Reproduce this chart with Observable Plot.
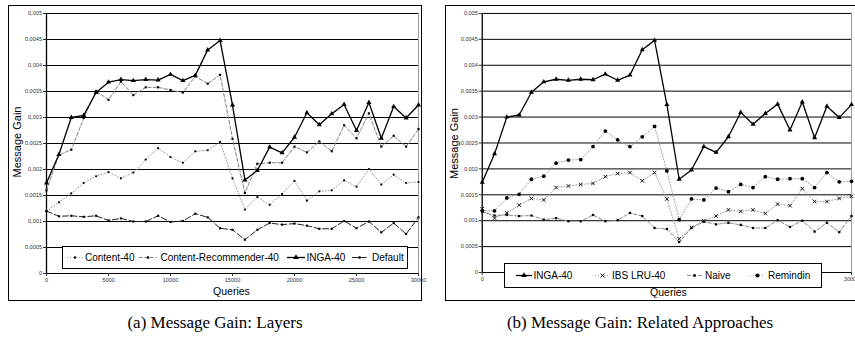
<!DOCTYPE html>
<html><head><meta charset="utf-8">
<script src="https://cdn.jsdelivr.net/npm/d3@7"></script>
<script src="https://cdn.jsdelivr.net/npm/@observablehq/plot@0.6"></script>
<style>
html,body{margin:0;padding:0;background:#fff;}
body{width:855px;height:341px;position:relative;overflow:hidden;font-family:"Liberation Sans",Arial,sans-serif;}
.box{position:absolute;border:1px solid #000;box-sizing:border-box;}
.plot{position:absolute;}
#overlay{position:absolute;left:0;top:0;}
</style>
</head><body>
<div class="box" style="left:8px;top:5px;width:414px;height:296px;"></div>
<div class="box" style="left:445px;top:5px;width:420px;height:296px;"></div>
<div id="pa" class="plot" style="left:8px;top:5px;"></div>
<div id="pb" class="plot" style="left:445px;top:5px;"></div>
<svg id="overlay" width="855" height="341"></svg>
<script>
const queries = [0,1000,2000,3000,4000,5000,6000,7000,8000,9000,10000,11000,12000,13000,14000,15000,16000,17000,18000,19000,20000,21000,22000,23000,24000,25000,26000,27000,28000,29000,30000];
const inga40 = [0.00174,0.00229,0.00300,0.00304,0.00348,0.00368,0.00373,0.00371,0.00373,0.00372,0.00383,0.00371,0.00381,0.00430,0.00448,0.00324,0.00180,0.00198,0.00243,0.00232,0.00262,0.00309,0.00286,0.00307,0.00325,0.00275,0.00329,0.00260,0.00321,0.00299,0.00324];
const contentRec40 = [0.00160,0.00228,0.00238,0.00299,0.00351,0.00334,0.00369,0.00343,0.00358,0.00358,0.00353,0.00348,0.00379,0.00365,0.00382,0.00259,0.00155,0.00211,0.00213,0.00213,0.00244,0.00233,0.00254,0.00235,0.00285,0.00260,0.00308,0.00244,0.00265,0.00244,0.00278];
const content40 = [0.00120,0.00137,0.00154,0.00174,0.00187,0.00195,0.00183,0.00194,0.00219,0.00241,0.00224,0.00213,0.00235,0.00237,0.00253,0.00183,0.00123,0.00147,0.00132,0.00153,0.00178,0.00140,0.00158,0.00160,0.00179,0.00167,0.00201,0.00171,0.00190,0.00174,0.00176];
const defaultGain = [0.00120,0.00110,0.00111,0.00109,0.00111,0.00102,0.00106,0.00100,0.00100,0.00111,0.00099,0.00101,0.00115,0.00108,0.00087,0.00084,0.00065,0.00084,0.00097,0.00094,0.00096,0.00092,0.00086,0.00086,0.00101,0.00087,0.00100,0.00079,0.00097,0.00076,0.00108];
const ibsLru40 = [0.00123,0.00105,0.00115,0.00130,0.00143,0.00140,0.00164,0.00167,0.00170,0.00172,0.00185,0.00191,0.00193,0.00177,0.00193,0.00142,0.00065,0.00087,0.00100,0.00109,0.00121,0.00118,0.00121,0.00114,0.00132,0.00129,0.00162,0.00137,0.00137,0.00143,0.00147];
const naive = [0.00117,0.00110,0.00111,0.00109,0.00110,0.00102,0.00105,0.00099,0.00099,0.00111,0.00099,0.00101,0.00115,0.00109,0.00086,0.00084,0.00059,0.00086,0.00098,0.00093,0.00096,0.00092,0.00086,0.00086,0.00101,0.00088,0.00100,0.00079,0.00096,0.00078,0.00109];
const remindin = [0.00119,0.00119,0.00144,0.00151,0.00180,0.00186,0.00211,0.00217,0.00218,0.00243,0.00273,0.00256,0.00243,0.00262,0.00282,0.00196,0.00102,0.00142,0.00140,0.00163,0.00156,0.00170,0.00164,0.00185,0.00180,0.00181,0.00181,0.00164,0.00193,0.00175,0.00176];
const yTicks = [0,0.0005,0.001,0.0015,0.002,0.0025,0.003,0.0035,0.004,0.0045,0.005];
const xTicksA = [0,5000,10000,15000,20000,25000,30000];
const xTicksB = [0,30000]; // the others are hidden behind the legend in panel (b)
const yTickLabels = ["0","0,0005","0,001","0,0015","0,002","0,0025","0,003","0,0035","0,004","0,0045","0,005"];
const seriesA = ["Content-40","Content-Recommender-40","INGA-40","Default"];
const seriesB = ["INGA-40","IBS LRU-40","Naive","Remindin"];
const captions = ["(a) Message Gain: Layers","(b) Message Gain: Related Approaches"];

const styles = {
  "INGA-40": {values: inga40, stroke:"#000", width:1.3, dash:null, symbol:"triangle", r:1.9, fill:"#000"},
  "Content-Recommender-40": {values: contentRec40, stroke:"#808080", width:1, dash:"3.5,2", symbol:"square", r:1.2, fill:"#000"},
  "Content-40": {values: content40, stroke:"#999", width:1, dash:"1,2", symbol:"circle", r:1.1, fill:"#000"},
  "Default": {values: defaultGain, stroke:"#222", width:1, dash:"6,2.5", symbol:"square", r:1.2, fill:"#000"},
  "IBS LRU-40": {values: ibsLru40, stroke:"#999", width:1, dash:"1,2", symbol:"times", r:1.8, fill:null, mstroke:"#000"},
  "Naive": {values: naive, stroke:"#888", width:1, dash:"3.5,2", symbol:"square", r:1.3, fill:"#000"},
  "Remindin": {values: remindin, stroke:"#999", width:1, dash:"1,2", symbol:"circle", r:1.9, fill:"#000"}
};
const fmtY = d => yTickLabels[yTicks.findIndex(t => Math.abs(t - d) < 1e-9)];

function makePanel(names, xTicks, mLeft, mRight, mBottom) {
  const marks = [
    Plot.ruleY(yTicks, {stroke:"#000", strokeWidth:1}),
    Plot.ruleX([30000], {stroke:"#9a9a9a", strokeWidth:1}),
    Plot.ruleX([0], {stroke:"#000", strokeWidth:1.3}),
    Plot.axisY({ticks:yTicks, tickFormat:fmtY, tickSize:3, tickPadding:1.5, label:null}),
    Plot.axisX({ticks:xTicks, tickFormat:d => String(d), tickSize:3, tickPadding:1.5, label:null})
  ];
  for (const n of names) {
    const s = styles[n];
    const data = queries.map((q, i) => ({q, v:s.values[i], name:n}));
    marks.push(Plot.line(data, {x:"q", y:"v", stroke:s.stroke, strokeWidth:s.width, strokeDasharray:s.dash}));
  }
  for (const n of names) {
    const s = styles[n];
    const data = queries.map((q, i) => ({q, v:s.values[i], name:n}));
    marks.push(Plot.dot(data, {x:"q", y:"v", symbol:s.symbol, r:s.r, fill:s.fill || "none", stroke:s.mstroke || "none", strokeWidth:0.9}));
  }
  return Plot.plot({
    width:413, height:295,
    marginLeft:mLeft, marginRight:mRight, marginTop:8, marginBottom:mBottom,
    x:{domain:[0,30000]},
    y:{domain:[0,0.005]},
    style:{background:"transparent", fontSize:"5.6px", fontFamily:"Liberation Sans, Arial, sans-serif", color:"#333", overflow:"visible"},
    marks
  });
}
document.getElementById("pa").appendChild(makePanel(seriesA, xTicksA, 38, 3, 27));
document.getElementById("pb").appendChild(makePanel(seriesB, xTicksB, 37, 4, 26));

// annotations
const ov = d3.select("#overlay");
function ylabel(x, y) {
  ov.append("text").attr("transform", `translate(${x},${y}) rotate(-90)`).attr("text-anchor","middle")
    .attr("font-size",11).attr("font-family","Liberation Sans, Arial, sans-serif").text("Message Gain");
}
ylabel(21, 142); ylabel(458, 143.5);
function xlabel(x, y) {
  ov.append("text").attr("x",x).attr("y",y).attr("text-anchor","middle")
    .attr("font-size",10.5).attr("font-family","Liberation Sans, Arial, sans-serif").text("Queries");
}
xlabel(231.5, 295); xlabel(668.5, 296);

const symMap = {triangle:d3.symbolTriangle, square:d3.symbolSquare, circle:d3.symbolCircle, times:d3.symbolTimes};
function legend(box, items, names) {
  ov.append("rect").attr("x",box[0]+0.5).attr("y",box[1]+0.5).attr("width",box[2]-box[0]).attr("height",box[3]-box[1])
    .attr("fill","#fff").attr("stroke","#000").attr("stroke-width",1);
  const cy = (box[1] + box[3]) / 2 + 0.5;
  items.forEach((it, i) => {
    const s = styles[names[i]];
    ov.append("line").attr("x1",it[0]).attr("x2",it[1]).attr("y1",cy).attr("y2",cy)
      .attr("stroke",s.stroke).attr("stroke-width",s.width).attr("stroke-dasharray",s.dash);
    const size = Math.PI * s.r * s.r * 1.2;
    ov.append("path").attr("transform",`translate(${(it[0]+it[1])/2},${cy})`)
      .attr("d", d3.symbol(symMap[s.symbol], size)())
      .attr("fill", s.fill || "none").attr("stroke", s.mstroke || "none").attr("stroke-width",0.9);
    ov.append("text").attr("x",it[2]).attr("y",cy+3.6).attr("font-size",10)
      .attr("font-family","Liberation Sans, Arial, sans-serif").text(names[i]);
  });
}
legend([62,246,407,268], [[67,83,85],[139,157,160.5],[287,305,306.5],[352,367,372]], seriesA);
legend([504,263,821,287], [[516,532,533.5],[595,610,612],[687,702,705],[750,765,768]], seriesB);

ov.append("text").attr("x",215).attr("y",328).attr("text-anchor","middle").attr("font-size",17)
  .attr("font-family","Liberation Serif, Times New Roman, serif").text(captions[0]);
ov.append("text").attr("x",640).attr("y",328).attr("text-anchor","middle").attr("font-size",17)
  .attr("font-family","Liberation Serif, Times New Roman, serif").text(captions[1]);
</script>
</body></html>
